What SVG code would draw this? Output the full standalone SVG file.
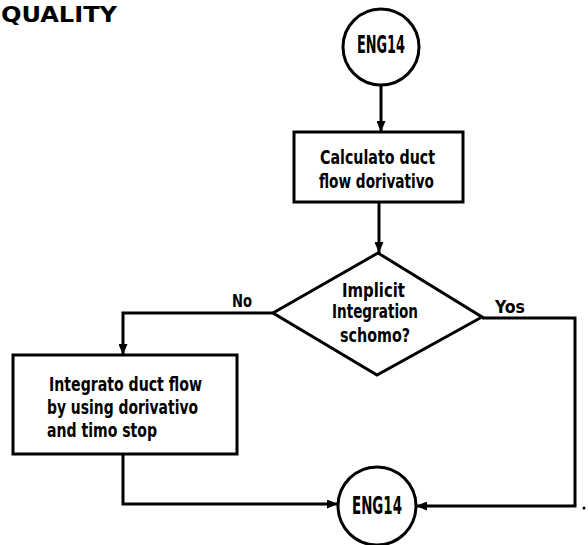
<svg xmlns="http://www.w3.org/2000/svg" width="588" height="545" viewBox="0 0 588 545">
  <style>
    .shape { fill: #fff; stroke: #000; stroke-width: 3; }
    .wire { fill: none; stroke: #000; stroke-width: 3; stroke-linejoin: miter; }
    text { font-family: "DejaVu Sans Condensed", "Liberation Sans", sans-serif; font-weight: bold; fill: #000; }
    .t { font-size: 19px; }
    .lbl { font-size: 17px; }
    .term { font-size: 24px; }
  </style>
  <defs>
    <marker id="arrow" viewBox="0 0 11 9" refX="11" refY="4.5" markerWidth="11" markerHeight="9" markerUnits="userSpaceOnUse" orient="auto">
      <path d="M0,0 L11,4.5 L0,9 Z" fill="#000"/>
    </marker>
  </defs>

  <rect width="588" height="545" fill="#fff"/>

  <!-- page heading at the top-left corner -->
  <text x="1" y="22" font-size="22" textLength="116" lengthAdjust="spacingAndGlyphs">QUALITY</text>

  <!-- connectors -->
  <g id="connectors">
    <path class="wire" d="M381,85 L381,132" marker-end="url(#arrow)"/>
    <path class="wire" d="M379,202 L379,253" marker-end="url(#arrow)"/>
    <path class="wire" d="M273,313 L123,313 L123,355" marker-end="url(#arrow)"/>
    <path class="wire" d="M482,318 L575,318 L575,506 L416,506" marker-end="url(#arrow)"/>
    <path class="wire" d="M123,454 L123,504 L338,504" marker-end="url(#arrow)"/>
    <text class="lbl" x="232" y="307" textLength="20" lengthAdjust="spacingAndGlyphs">No</text>
    <text class="lbl" x="495" y="313" textLength="30" lengthAdjust="spacingAndGlyphs">Yos</text>
  </g>

  <g id="start">
    <circle class="shape" cx="381" cy="47" r="38"/>
    <text class="term" x="357" y="53" textLength="48" lengthAdjust="spacingAndGlyphs">ENG14</text>
  </g>

  <g id="calc">
    <rect class="shape" x="294" y="132" width="169" height="70"/>
    <text class="t" x="320" y="164" textLength="115" lengthAdjust="spacingAndGlyphs">Calculato duct</text>
    <text class="t" x="319" y="188" textLength="115" lengthAdjust="spacingAndGlyphs">flow dorivativo</text>
  </g>

  <g id="decision">
    <polygon class="shape" points="378,253 482,317 377,375 273,313"/>
    <text class="t" x="342" y="297" textLength="63" lengthAdjust="spacingAndGlyphs">Implicit</text>
    <text class="t" x="332" y="318" textLength="86" lengthAdjust="spacingAndGlyphs">Integration</text>
    <text class="t" x="340" y="342" textLength="70" lengthAdjust="spacingAndGlyphs">schomo?</text>
  </g>

  <g id="integrate">
    <rect class="shape" x="13" y="355" width="224" height="99"/>
    <text class="t" x="49" y="391" textLength="153" lengthAdjust="spacingAndGlyphs">Integrato duct flow</text>
    <text class="t" x="47" y="414" textLength="151" lengthAdjust="spacingAndGlyphs">by using dorivativo</text>
    <text class="t" x="47" y="437" textLength="110" lengthAdjust="spacingAndGlyphs">and timo stop</text>
  </g>

  <g id="end">
    <circle class="shape" cx="377" cy="506" r="39"/>
    <text class="term" x="352" y="514" textLength="50" lengthAdjust="spacingAndGlyphs">ENG14</text>
  </g>

  <circle cx="584" cy="508" r="1.5" fill="#000"/>
</svg>
